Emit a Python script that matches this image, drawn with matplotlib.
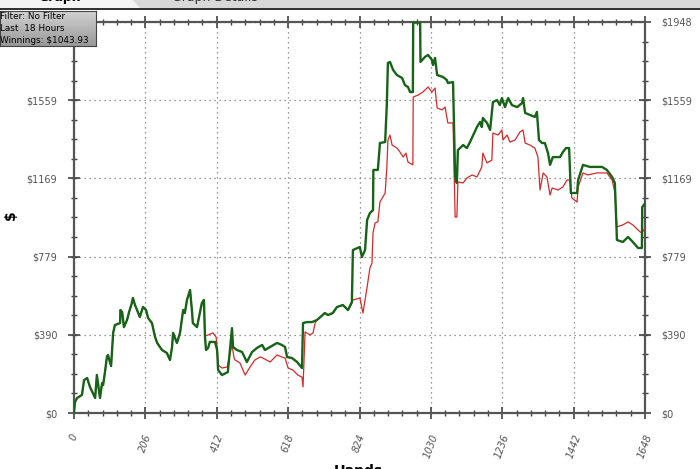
import matplotlib
matplotlib.use('Agg')
import matplotlib.pyplot as plt
from matplotlib.patches import Rectangle, Polygon
from matplotlib.ticker import MultipleLocator, FixedLocator
import numpy as np

# winnings (green), cumulative by hand
green_hands = [0, 3, 9, 23, 29, 38, 46, 61, 66, 75, 81, 84, 89, 95, 98, 107, 113, 118, 133, 134,
               139, 144, 153, 159, 167, 170, 176, 182, 190, 199, 208, 214, 225, 234, 240, 254,
               268, 277, 283, 286, 297, 306, 315, 320, 326, 335, 341, 343, 355, 369, 375, 378,
               381, 387, 392, 407, 413, 416, 427, 444, 456, 459, 470, 485, 499, 514, 528, 543,
               551, 566, 586, 600, 609, 615, 629, 644, 658, 661, 672, 687, 701, 724, 733, 747,
               759, 776, 791, 802, 805, 825, 831, 840, 846, 854, 863, 864, 877, 883, 898, 903,
               906, 912, 921, 932, 947, 955, 964, 970, 978, 979, 999, 1000, 1013, 1022, 1033,
               1036, 1042, 1048, 1065, 1076, 1079, 1094, 1100, 1105, 1108, 1123, 1134, 1143,
               1163, 1172, 1177, 1180, 1192, 1201, 1209, 1221, 1229, 1235, 1244, 1253, 1264,
               1279, 1293, 1296, 1302, 1316, 1330, 1336, 1342, 1351, 1359, 1368, 1374, 1382,
               1403, 1411, 1420, 1429, 1434, 1452, 1455, 1469, 1489, 1509, 1524, 1538, 1553,
               1561, 1564, 1567, 1584, 1599, 1613, 1628, 1639, 1640, 1648]
green_dollars = [5, 55, 75, 90, 164, 174, 130, 75, 189, 75, 149, 139, 199, 279, 289, 234, 399, 438,
                 448, 513, 503, 428, 463, 503, 548, 573, 538, 513, 478, 528, 513, 473, 448, 379,
                 349, 314, 299, 264, 329, 399, 349, 399, 513, 498, 563, 613, 498, 448, 428, 548,
                 563, 379, 314, 324, 354, 354, 314, 214, 189, 204, 423, 329, 314, 304, 254, 304,
                 324, 339, 314, 329, 349, 339, 329, 279, 274, 254, 224, 448, 453, 453, 463, 498,
                 488, 498, 528, 538, 513, 553, 812, 827, 777, 812, 962, 996, 1011, 1211, 1211,
                 1345, 1350, 1544, 1744, 1749, 1709, 1684, 1669, 1634, 1624, 1599, 1599, 1945,
                 1945, 1749, 1774, 1784, 1759, 1734, 1769, 1684, 1674, 1659, 1644, 1649, 1176,
                 1146, 1310, 1335, 1320, 1350, 1425, 1450, 1425, 1470, 1445, 1410, 1549, 1559,
                 1534, 1569, 1524, 1569, 1534, 1524, 1544, 1569, 1495, 1485, 1475, 1500, 1360,
                 1345, 1345, 1295, 1236, 1275, 1275, 1300, 1320, 1320, 1096, 1096, 1161, 1236,
                 1226, 1226, 1226, 1211, 1176, 1146, 1011, 862, 852, 877, 852, 822, 822, 1026,
                 1044]

# red line: same as green for the first hands, then its own path
red_split_hands = [378, 387, 401, 410, 413, 416, 427, 442, 456, 462, 465, 479, 494, 508, 522, 537,
                   545, 566, 586, 600, 609, 618, 632, 646, 658, 661, 667, 681, 690, 696, 701, 724,
                   733, 747, 759, 776, 791, 800, 805, 825, 834, 846, 854, 860, 863, 869, 877, 883,
                   898, 903, 906, 912, 918, 932, 941, 950, 958, 964, 978, 979, 993, 1007, 1022,
                   1033, 1042, 1048, 1062, 1071, 1076, 1079, 1094, 1100, 1105, 1108, 1123, 1134,
                   1149, 1163, 1177, 1180, 1192, 1206, 1209, 1224, 1235, 1238, 1250, 1258, 1273,
                   1287, 1296, 1302, 1316, 1330, 1339, 1345, 1354, 1365, 1374, 1380, 1397, 1411,
                   1423, 1431, 1437, 1452, 1455, 1469, 1483, 1509, 1538, 1553, 1561, 1567, 1584,
                   1599, 1613, 1634, 1639, 1648]
red_split_dollars = [383, 389, 399, 379, 329, 239, 224, 229, 339, 274, 264, 249, 189, 229, 264, 279,
                     274, 254, 289, 279, 274, 224, 214, 189, 179, 130, 404, 389, 399, 448, 463, 498,
                     488, 498, 528, 538, 513, 538, 563, 573, 498, 628, 722, 747, 897, 947, 952, 1051,
                     1096, 1226, 1360, 1385, 1335, 1320, 1300, 1275, 1295, 1250, 1236, 1574, 1584,
                     1599, 1624, 1599, 1619, 1520, 1510, 1524, 1475, 1445, 1445, 976, 976, 1151,
                     1146, 1171, 1186, 1176, 1226, 1295, 1246, 1260, 1395, 1385, 1410, 1360, 1385,
                     1350, 1360, 1400, 1410, 1345, 1335, 1320, 1275, 1111, 1196, 1176, 1086, 1121,
                     1111, 1126, 1161, 1161, 1071, 1051, 1126, 1196, 1186, 1196, 1196, 1161, 1101,
                     927, 937, 952, 937, 902, 897, 922]
red_hands = green_hands[:51] + red_split_hands
red_dollars = green_dollars[:51] + red_split_dollars

x_ticks = [0, 206, 412, 618, 824, 1030, 1236, 1442, 1648]
y_ticks = [0, 390, 779, 1169, 1559, 1948]
y_labels = ['$0', '$390', '$779', '$1169', '$1559', '$1948']
filter_lines = ['Filter: No Filter', 'Last  18 Hours', 'Winnings: $1043.93']

fig = plt.figure(figsize=(7, 4.69), dpi=100)
ax = fig.add_axes([74 / 700, 56 / 469, 571 / 700, 391 / 469])

ax.plot(red_hands, red_dollars, color='#d42a2a', lw=0.9, zorder=3)
ax.plot(green_hands, green_dollars, color='#176317', lw=1.7, zorder=4)

ax.set_xlim(0, 1648)
ax.set_ylim(0, 1948)
ax.xaxis.set_major_locator(FixedLocator(x_ticks))
ax.xaxis.set_minor_locator(MultipleLocator(206 / 5))
ax.yaxis.set_major_locator(FixedLocator(y_ticks))
ax.yaxis.set_minor_locator(MultipleLocator(1948 / 20))
ax.set_yticklabels(y_labels)
ax.set_xticklabels([str(t) for t in x_ticks], rotation=70, ha='center', va='top',
                   fontstyle='italic')

ax.tick_params(which='both', direction='inout', color='#444', top=True, right=True,
               labelright=True, labelsize=7, labelcolor='#555')
ax.tick_params(which='major', length=8, width=1.2, pad=8)
ax.tick_params(which='minor', length=5, width=1.0)
ax.tick_params(axis='x', which='major', pad=10)
for s in ax.spines.values():
    s.set_color('#555')
    s.set_linewidth(1.6)

ax.grid(True, which='major', linestyle=(0, (1, 3)), color='#777', lw=0.9)
ax.set_axisbelow(True)

fig.text(11 / 700, 1 - 215 / 469, '$', rotation=90, fontsize=10, fontweight='bold',
         ha='center', va='center')
fig.text(358 / 700, 1 - 471 / 469, 'Hands', fontsize=10, fontweight='bold', ha='center',
         va='center')

# tab strip at the top
fig.patches.append(Rectangle((0, 1 - 8 / 469), 1, 8 / 469, transform=fig.transFigure,
                             facecolor='#d8d8d8', edgecolor='none', zorder=0))
fig.patches.append(Polygon([(0, 1), (0, 1 - 8 / 469), (140 / 700, 1 - 8 / 469), (133 / 700, 1)],
                           closed=True, transform=fig.transFigure, facecolor='#f4f4f4',
                           edgecolor='none', zorder=0))
fig.patches.append(Rectangle((0, 1 - 10 / 469), 1, 2 / 469, transform=fig.transFigure,
                             facecolor='#333', edgecolor='none', zorder=1))
fig.text(60 / 700, 1 + 3 / 469, 'Graph', fontsize=9, fontweight='bold', ha='center', va='center')
fig.text(215 / 700, 1 + 3 / 469, 'Graph Details', fontsize=9, color='#333', ha='center',
         va='center')

# filter box
box = fig.add_axes([0, 1 - 46 / 469, 96 / 700, 35 / 469])
box.imshow(np.linspace(0.82, 0.6, 32).reshape(-1, 1), cmap='gray', vmin=0, vmax=1,
           aspect='auto', extent=[0, 1, 0, 1])
box.set_xticks([])
box.set_yticks([])
for s in box.spines.values():
    s.set_color('#444')
for i, line in enumerate(filter_lines):
    box.text(0.0, 0.84 - i * 0.34, line, fontsize=6.4, transform=box.transAxes, va='center')

fig.savefig('out.png', dpi=100)
